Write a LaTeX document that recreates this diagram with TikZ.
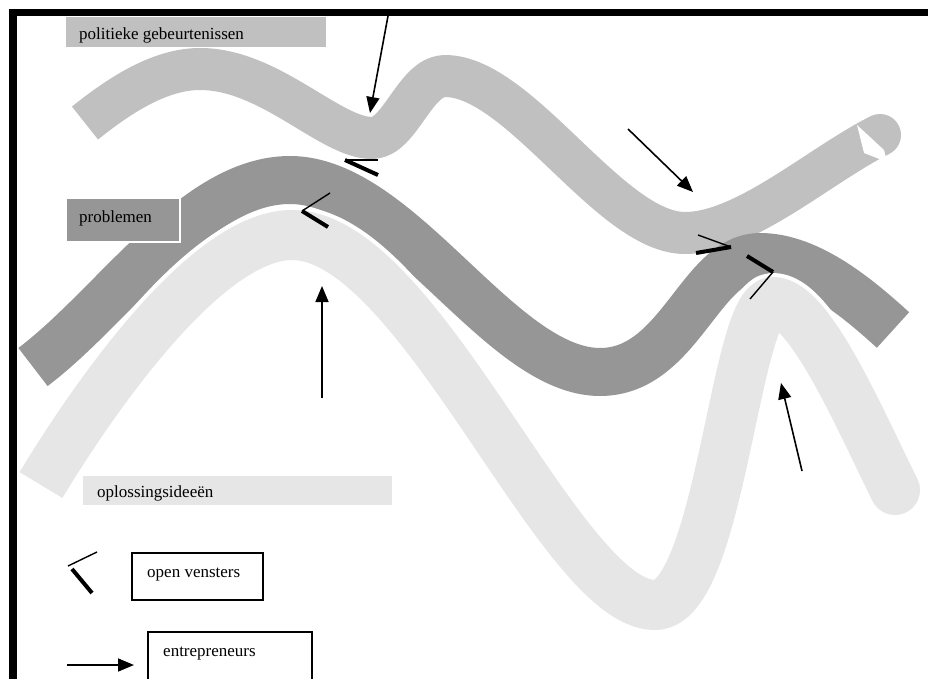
\documentclass[tikz,border=0pt]{standalone}
\usepackage{fontspec}
\setmainfont{Liberation Serif}
\usetikzlibrary{arrows.meta}

\definecolor{politiek}{HTML}{C0C0C0}
\definecolor{probleem}{HTML}{969696}
\definecolor{oplossing}{HTML}{E6E6E6}

\begin{document}
\begin{tikzpicture}[x=1pt,y=-1pt,
  band/.style={line cap=butt, line join=round},
  ptr/.style={line width=1.6pt, -{Triangle[length=16pt,width=13pt]}},
  thinpane/.style={line width=1.4pt},
  thickpane/.style={line width=4pt},
  lbl/.style={anchor=base west, inner sep=0pt, font=\fontsize{17}{20}\selectfont},
]
\useasboundingbox (0,0) rectangle (928,679);
\fill[white] (0,0) rectangle (928,679);

% stream 1: politieke gebeurtenissen
\draw[band, politiek, line width=42pt]
  (85,123) .. controls (120,95) and (160,69) .. (200,69)
  .. controls (270,69) and (330,138) .. (372,138)
  .. controls (400,138) and (415,76) .. (445,76)
  .. controls (520,76) and (610,233) .. (685,233)
  .. controls (745,233) and (820,165) .. (880,135);
\fill[politiek] (880,135) circle (21pt);
\fill[white] (857,125) -- (864,153) -- (887,162) -- (884,150) -- cycle;

% stream 2: problemen
\draw[band, probleem, line width=48pt]
  (33,367) .. controls (115,305) and (195,180) .. (290,180)
  .. controls (400,180) and (500,372) .. (600,372)
  .. controls (680,372) and (700,257) .. (760,257)
  .. controls (810,257) and (860,300) .. (893,330);

% stream 3: oplossingsideeen (white casing, then fill)
\draw[band, white, line width=58pt]
  (41,485) .. controls (79,422) and (200,235) .. (292,235)
  .. controls (420,235) and (560,605) .. (655,605)
  .. controls (720,605) and (735,302) .. (773,302)
  .. controls (810,302) and (860,420) .. (895,490);
\fill[white] (895,490) circle (29pt);
\draw[band, oplossing, line width=50pt]
  (41,485) .. controls (79,422) and (200,235) .. (292,235)
  .. controls (420,235) and (560,605) .. (655,605)
  .. controls (720,605) and (735,302) .. (773,302)
  .. controls (810,302) and (860,420) .. (895,490);
\fill[oplossing] (895,490) circle (25pt);

% frame (top and left edges)
\fill[black] (9,9) rectangle (928,16);
\fill[black] (9,9) rectangle (17,679);

% stream labels
\fill[politiek] (66,17) rectangle (326,47);
\node[lbl] (lpol) at (79,40) {politieke gebeurtenissen};
\draw[fill=probleem, draw=white, line width=1.2pt] (66,198) rectangle (180,242);
\node[lbl] (lprob) at (79,222) {problemen};
\fill[oplossing] (83,476) rectangle (392,505);
\node[lbl] (lopl) at (97,497) {oplossingsideeën};

% entrepreneurs (arrows)
\coordinate (e1s) at (388,16);  \coordinate (e1t) at (370,113);
\coordinate (e2s) at (628,129); \coordinate (e2t) at (693,192);
\coordinate (e3s) at (322,398); \coordinate (e3t) at (322,286);
\coordinate (e4s) at (802,471); \coordinate (e4t) at (781,383);
\draw[ptr] (e1s) -- (e1t);
\draw[ptr] (e2s) -- (e2t);
\draw[ptr] (e3s) -- (e3t);
\draw[ptr] (e4s) -- (e4t);

% open windows
\coordinate (wa) at (345,160);
\draw[thinpane] (wa) -- (378,160);
\draw[thickpane] (wa) -- (378,175);
\coordinate (wb) at (302,211);
\draw[thinpane] (wb) -- (330,193);
\draw[thickpane] (wb) -- (328,227);
\coordinate (wc) at (731,247);
\draw[thinpane] (wc) -- (698,235);
\draw[thickpane] (wc) -- (696,253);
\coordinate (wd) at (773,272);
\draw[thickpane] (wd) -- (747,256);
\draw[thinpane] (wd) -- (750,299);

% legend
\coordinate (lw) at (68,566);
\draw[thinpane] (lw) -- (97,552);
\draw[thickpane] (72,569) -- (92,593);
\draw[black, line width=1.3pt, fill=white] (132,553) rectangle (263,600);
\node[lbl] (lopen) at (147,577) {open vensters};

\coordinate (las) at (67,665); \coordinate (lat) at (134,665);
\draw[ptr] (las) -- (lat);
\draw[black, line width=1.3pt, fill=white] (148,632) rectangle (312,682);
\node[lbl] (lent) at (163,656) {entrepreneurs};
\end{tikzpicture}
\end{document}
